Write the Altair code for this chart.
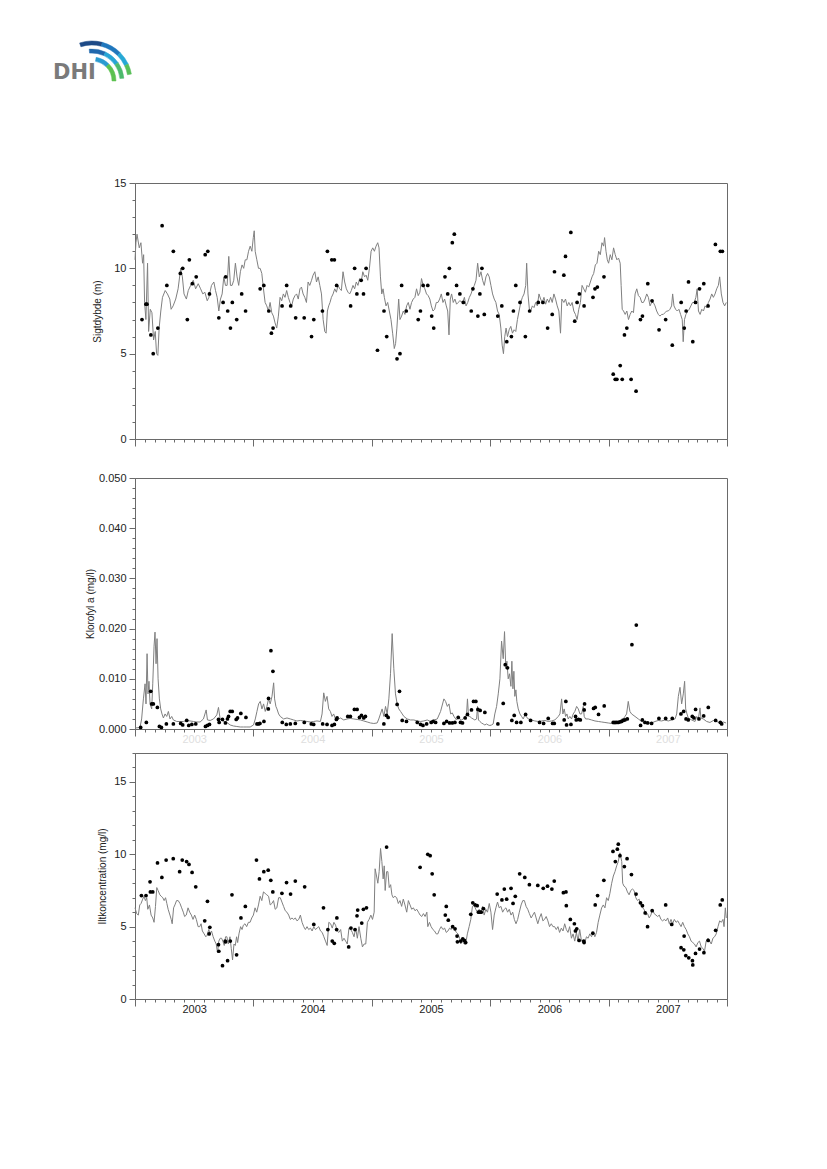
import altair as alt
import pandas as pd

# ---------------- Sigtdybde (m): model line and observations ----------------
sig_model = [
(2003.000,10.5),(2003.008,11.5),(2003.017,12.0),(2003.036,11.2),(2003.050,11.5),(2003.064,10.3),(2003.073,10.8),(2003.081,8.0),(2003.092,7.0),(2003.106,10.3),(2003.115,6.3),(2003.129,7.6),(2003.143,7.4),(2003.157,5.8),(2003.171,6.3),(2003.182,5.0),(2003.193,4.9),(2003.204,6.5),(2003.218,7.5),(2003.232,8.3),(2003.255,8.7),(2003.274,8.5),(2003.294,8.2),(2003.305,7.6),(2003.322,7.8),(2003.344,8.2),(2003.364,8.8),(2003.386,10.0),(2003.400,9.5),(2003.414,8.5),(2003.434,8.2),(2003.450,8.7),(2003.470,9.0),(2003.492,9.3),(2003.512,8.8),(2003.534,9.1),(2003.554,8.8),(2003.573,8.5),(2003.590,8.6),(2003.610,8.1),(2003.624,8.3),(2003.646,9.0),(2003.666,9.2),(2003.680,8.7),(2003.694,8.3),(2003.708,7.5),(2003.722,8.2),(2003.736,8.5),(2003.750,9.5),(2003.764,9.0),(2003.778,9.0),(2003.792,10.7),(2003.806,9.0),(2003.820,9.0),(2003.834,9.3),(2003.848,10.3),(2003.862,9.5),(2003.876,9.0),(2003.890,9.8),(2003.904,10.2),(2003.918,10.0),(2003.931,10.5),(2003.945,10.5),(2003.959,11.0),(2003.973,11.3),(2003.987,11.0),(2003.999,11.8),
(2004.007,12.2),(2004.015,11.0),(2004.029,10.5),(2004.043,10.0),(2004.057,10.0),(2004.071,9.7),(2004.085,8.8),(2004.099,8.0),(2004.113,7.8),(2004.127,7.5),(2004.141,8.0),(2004.155,7.4),(2004.169,7.2),(2004.183,6.8),(2004.197,6.5),(2004.211,7.2),(2004.225,8.3),(2004.239,8.1),(2004.253,8.5),(2004.267,8.3),(2004.281,8.7),(2004.295,8.3),(2004.309,8.0),(2004.323,7.8),(2004.337,8.2),(2004.351,8.4),(2004.365,8.5),(2004.379,8.2),(2004.393,8.8),(2004.406,8.9),(2004.420,8.5),(2004.434,8.3),(2004.448,8.0),(2004.462,9.2),(2004.476,9.0),(2004.491,9.3),(2004.504,9.6),(2004.519,9.8),(2004.533,9.2),(2004.547,9.5),(2004.561,9.0),(2004.575,8.5),(2004.589,7.0),(2004.603,6.3),(2004.614,6.2),(2004.625,7.5),(2004.636,7.8),(2004.647,8.0),(2004.659,8.3),(2004.673,8.5),(2004.687,8.8),(2004.701,8.6),(2004.715,9.0),(2004.729,8.8),(2004.743,8.7),(2004.757,9.8),(2004.771,9.2),(2004.785,8.8),(2004.799,8.6),(2004.813,8.5),(2004.827,8.7),(2004.841,9.0),(2004.855,8.8),(2004.869,9.2),(2004.883,9.0),(2004.897,9.4),(2004.911,9.2),(2004.924,9.8),(2004.939,9.5),(2004.952,9.6),(2004.966,9.3),(2004.980,10.0),(2004.994,11.0),
(2005.008,11.2),(2005.022,11.0),(2005.036,11.3),(2005.050,11.5),(2005.061,11.2),(2005.073,9.5),(2005.084,8.5),(2005.095,8.8),(2005.106,8.3),(2005.120,7.8),(2005.134,8.0),(2005.148,7.5),(2005.162,7.0),(2005.176,6.2),(2005.190,5.3),(2005.201,5.6),(2005.212,6.5),(2005.227,8.2),(2005.238,7.0),(2005.252,7.2),(2005.266,7.5),(2005.280,7.3),(2005.294,7.8),(2005.308,8.0),(2005.322,7.6),(2005.336,8.0),(2005.350,8.2),(2005.364,8.3),(2005.378,8.8),(2005.392,8.4),(2005.406,8.6),(2005.420,9.4),(2005.434,9.0),(2005.448,8.8),(2005.462,8.5),(2005.476,8.4),(2005.490,8.2),(2005.503,7.8),(2005.517,7.5),(2005.531,7.6),(2005.545,8.0),(2005.559,8.0),(2005.573,8.2),(2005.587,8.5),(2005.601,8.0),(2005.615,8.2),(2005.629,7.8),(2005.641,7.5),(2005.652,6.1),(2005.663,8.2),(2005.674,8.5),(2005.688,8.0),(2005.702,8.2),(2005.716,7.9),(2005.729,8.0),(2005.744,8.1),
(2005.768,8.0),(2005.782,8.3),(2005.796,7.8),(2005.810,8.0),(2005.824,8.3),(2005.838,8.5),(2005.852,8.8),(2005.866,9.0),(2005.880,9.3),(2005.894,10.3),(2005.908,9.5),(2005.922,9.8),(2005.936,9.3),(2005.950,9.0),(2005.964,9.5),(2005.978,9.7),(2005.992,9.5),
(2006.006,9.0),(2006.020,8.5),(2006.034,8.2),(2006.048,8.0),(2006.062,7.5),(2006.076,7.3),(2006.090,6.5),(2006.101,5.5),(2006.112,5.0),(2006.123,6.0),(2006.134,6.5),(2006.146,6.0),(2006.160,6.4),(2006.174,6.6),(2006.188,6.2),(2006.202,6.4),(2006.216,6.3),(2006.230,7.0),(2006.244,7.5),(2006.258,8.0),(2006.272,8.3),(2006.286,8.5),(2006.300,9.0),(2006.308,10.3),(2006.319,8.5),(2006.331,7.6),(2006.342,7.5),(2006.356,7.8),(2006.370,7.7),(2006.384,8.0),(2006.398,7.8),(2006.412,8.5),(2006.426,8.2),(2006.440,8.0),(2006.454,8.3),(2006.468,7.9),(2006.482,8.2),(2006.496,8.0),(2006.510,8.3),(2006.524,8.0),(2006.538,8.5),(2006.552,8.2),(2006.566,7.8),(2006.580,7.5),(2006.594,6.2),(2006.605,8.2),(2006.622,8.0),(2006.636,8.2),(2006.650,7.8),(2006.664,8.0),(2006.678,7.8),(2006.692,8.0),(2006.706,7.5),(2006.720,7.3),(2006.734,7.0),(2006.748,7.6),(2006.762,8.0),(2006.776,9.0),(2006.790,8.8),(2006.804,8.6),(2006.818,9.0),(2006.832,8.9),(2006.846,9.2),(2006.860,9.5),(2006.874,9.7),(2006.888,10.2),(2006.902,10.3),(2006.916,11.0),(2006.930,10.8),(2006.944,11.5),(2006.958,11.3),(2006.966,11.8),(2006.978,11.0),(2006.989,10.5),
(2007.000,10.3),(2007.014,10.8),(2007.028,10.5),(2007.042,11.2),(2007.056,10.8),(2007.070,10.5),(2007.084,10.6),(2007.098,10.3),(2007.106,9.0),(2007.115,7.6),(2007.126,7.5),(2007.140,7.3),(2007.154,7.5),(2007.168,7.0),(2007.182,7.3),(2007.196,7.5),(2007.210,7.4),(2007.224,8.5),(2007.238,8.8),(2007.252,8.4),(2007.266,8.3),(2007.280,8.0),(2007.294,8.0),(2007.308,8.2),(2007.322,8.5),(2007.336,8.3),(2007.350,7.8),(2007.364,8.0),(2007.378,8.0),(2007.392,7.8),(2007.406,7.5),(2007.420,7.3),(2007.434,7.2),(2007.448,7.3),(2007.462,7.3),(2007.476,7.4),(2007.490,7.5),(2007.504,7.5),(2007.518,7.6),(2007.532,7.8),(2007.541,8.5),(2007.552,7.8),(2007.566,7.6),(2007.580,7.5),(2007.594,7.6),(2007.608,7.3),(2007.622,7.0),(2007.630,5.7),(2007.641,7.0),(2007.653,7.3),(2007.667,7.5),(2007.681,7.6),(2007.695,7.8),(2007.709,8.0),(2007.723,8.0),(2007.737,8.3),(2007.748,8.8),(2007.759,7.5),(2007.773,7.3),(2007.787,7.6),(2007.801,7.5),(2007.815,7.8),(2007.829,7.7),(2007.843,8.0),(2007.857,8.2),(2007.871,8.5),(2007.885,8.3),(2007.899,8.5),(2007.913,8.8),(2007.927,9.0),(2007.938,9.5),(2007.952,8.5),(2007.966,8.0),(2007.980,7.8),(2007.994,8.0),
]
sig_obs = [
(2003.059,7.0),(2003.092,7.9),(2003.101,7.9),(2003.134,6.1),(2003.154,5.0),(2003.193,6.5),(2003.229,12.5),(2003.269,9.0),(2003.324,11.0),(2003.383,9.7),(2003.403,10.0),(2003.442,7.0),(2003.459,10.5),(2003.484,9.1),(2003.517,9.5),(2003.593,10.8),(2003.615,11.0),(2003.629,8.5),(2003.708,7.1),(2003.744,8.0),(2003.766,9.5),(2003.783,7.5),(2003.806,6.5),(2003.822,8.0),(2003.859,7.0),(2003.901,8.5),(2003.934,7.5),
(2004.057,8.8),(2004.088,9.0),(2004.130,7.5),(2004.152,6.2),(2004.166,6.5),(2004.242,7.8),(2004.281,9.0),(2004.315,7.8),(2004.357,7.1),(2004.429,7.1),(2004.491,6.0),(2004.510,7.0),(2004.583,7.5),(2004.625,11.0),(2004.662,10.5),(2004.684,10.5),(2004.703,9.0),(2004.821,7.8),(2004.855,10.0),(2004.874,8.5),(2004.910,9.3),(2004.930,8.5),(2004.952,10.0),
(2005.048,5.2),(2005.103,7.5),(2005.126,6.0),(2005.213,4.7),(2005.238,5.0),(2005.252,9.0),(2005.291,7.5),(2005.392,7.0),(2005.411,7.5),(2005.434,9.0),(2005.473,9.0),(2005.506,7.2),(2005.523,6.5),(2005.618,9.5),(2005.641,8.5),(2005.655,10.0),(2005.680,11.5),(2005.697,12.0),(2005.716,9.0),(2005.744,8.5),(2005.773,8.0),(2005.840,7.5),(2005.854,8.8),(2005.896,7.2),(2005.913,8.5),(2005.930,10.0),(2005.950,7.3),
(2006.064,7.2),(2006.098,7.8),(2006.140,5.7),(2006.179,6.0),(2006.196,7.5),(2006.216,9.0),(2006.252,8.0),(2006.297,6.0),(2006.333,7.5),(2006.406,8.0),(2006.445,8.0),(2006.485,6.5),(2006.524,7.3),(2006.543,9.8),(2006.622,9.6),(2006.636,10.7),(2006.681,12.1),(2006.714,6.9),(2006.734,8.0),(2006.753,8.5),(2006.793,7.8),(2006.868,8.3),(2006.885,8.8),(2006.905,8.9),(2006.961,9.5),
(2007.039,3.8),(2007.056,3.5),(2007.070,3.5),(2007.098,4.3),(2007.115,3.5),(2007.134,6.1),(2007.154,6.5),(2007.190,3.5),(2007.232,2.8),(2007.269,7.0),(2007.286,7.2),(2007.331,9.1),(2007.367,8.1),(2007.426,6.4),(2007.482,7.0),(2007.538,5.5),(2007.613,8.0),(2007.639,6.5),(2007.655,7.5),(2007.675,9.2),(2007.711,5.7),(2007.734,8.0),(2007.768,8.8),(2007.804,9.1),(2007.840,7.8),(2007.902,11.4),(2007.944,11.0),(2007.961,11.0),
]

# ---------------- Klorofyl a (mg/l) ----------------
chl_model = [
(2003.000,0.0002),(2003.042,0.0003),(2003.056,0.002),(2003.071,0.006),(2003.085,0.009),(2003.093,0.005),(2003.102,0.015),(2003.110,0.007),(2003.118,0.0095),(2003.127,0.005),(2003.141,0.004),(2003.150,0.009),(2003.161,0.0165),(2003.169,0.0193),(2003.178,0.013),(2003.186,0.018),(2003.195,0.010),(2003.206,0.006),(2003.217,0.004),(2003.228,0.003),(2003.240,0.0022),(2003.254,0.003),(2003.268,0.0025),(2003.282,0.0035),(2003.296,0.002),(2003.310,0.0025),(2003.324,0.0018),(2003.353,0.0015),(2003.381,0.0015),(2003.409,0.0015),(2003.437,0.0017),(2003.465,0.0016),(2003.494,0.0015),(2003.522,0.0014),(2003.550,0.0014),(2003.578,0.002),(2003.601,0.0038),(2003.612,0.0018),(2003.635,0.0017),(2003.663,0.002),(2003.691,0.0028),(2003.705,0.0043),(2003.719,0.002),(2003.748,0.0015),(2003.776,0.0013),(2003.804,0.0008),(2003.832,0.0006),(2003.860,0.0005),(2003.889,0.0004),(2003.917,0.0004),(2003.945,0.0004),(2003.973,0.0004),
(2004.001,0.0008),(2004.016,0.002),(2004.030,0.0035),(2004.044,0.005),(2004.058,0.0055),(2004.072,0.004),(2004.086,0.005),(2004.100,0.0035),(2004.114,0.0045),(2004.128,0.006),(2004.142,0.005),(2004.157,0.0065),(2004.171,0.0092),(2004.179,0.006),(2004.190,0.0045),(2004.199,0.004),(2004.213,0.003),(2004.227,0.0025),(2004.255,0.002),(2004.284,0.0022),(2004.312,0.002),(2004.340,0.0018),(2004.368,0.0016),(2004.396,0.0017),(2004.425,0.0016),(2004.453,0.0015),(2004.481,0.0014),(2004.509,0.0015),(2004.537,0.0016),(2004.566,0.0015),(2004.580,0.003),(2004.594,0.0072),(2004.608,0.0055),(2004.622,0.0065),(2004.636,0.004),(2004.650,0.0035),(2004.664,0.0025),(2004.678,0.003),(2004.693,0.002),(2004.707,0.0018),(2004.735,0.0022),(2004.763,0.0018),(2004.791,0.002),(2004.819,0.0021),(2004.848,0.002),(2004.876,0.0019),(2004.904,0.0018),(2004.932,0.0016),(2004.961,0.0014),(2004.989,0.0012),
(2005.017,0.0011),(2005.045,0.0012),(2005.059,0.002),(2005.073,0.003),(2005.087,0.004),(2005.102,0.0025),(2005.116,0.0045),(2005.130,0.003),(2005.144,0.006),(2005.158,0.011),(2005.172,0.019),(2005.186,0.012),(2005.200,0.007),(2005.214,0.005),(2005.228,0.004),(2005.243,0.0035),(2005.257,0.003),(2005.271,0.0025),(2005.299,0.002),(2005.327,0.0018),(2005.355,0.0018),(2005.384,0.0016),(2005.412,0.0015),(2005.440,0.0016),(2005.468,0.0018),(2005.496,0.0015),(2005.525,0.0018),(2005.553,0.002),(2005.581,0.0035),(2005.609,0.006),(2005.623,0.0055),(2005.638,0.0045),(2005.652,0.005),(2005.666,0.003),(2005.680,0.0032),(2005.694,0.0025),
(2005.715,0.0018),(2005.730,0.0022),(2005.744,0.002),(2005.758,0.0018),(2005.772,0.002),(2005.786,0.0025),(2005.800,0.0028),(2005.808,0.006),(2005.817,0.0025),(2005.828,0.0025),(2005.842,0.0022),(2005.856,0.002),(2005.870,0.0018),(2005.885,0.002),(2005.893,0.0045),(2005.901,0.0018),(2005.913,0.0015),(2005.927,0.0012),(2005.941,0.001),(2005.955,0.0008),(2005.969,0.001),(2005.983,0.0008),(2005.997,0.0007),
(2006.011,0.0008),(2006.025,0.001),(2006.039,0.003),(2006.054,0.0045),(2006.068,0.007),(2006.082,0.010),(2006.096,0.0175),(2006.110,0.014),(2006.121,0.0194),(2006.132,0.012),(2006.141,0.0135),(2006.152,0.010),(2006.163,0.011),(2006.175,0.0085),(2006.183,0.0135),(2006.192,0.008),(2006.200,0.0115),(2006.208,0.0065),(2006.217,0.0078),(2006.225,0.0055),(2006.237,0.004),(2006.251,0.003),(2006.265,0.0025),(2006.279,0.002),(2006.293,0.0028),(2006.321,0.002),(2006.349,0.0018),(2006.377,0.0016),(2006.406,0.0015),(2006.434,0.0016),(2006.462,0.0017),(2006.490,0.0015),(2006.518,0.0016),(2006.546,0.0018),(2006.575,0.0025),(2006.589,0.003),(2006.603,0.006),(2006.614,0.003),(2006.625,0.004),(2006.637,0.0025),(2006.648,0.003),(2006.659,0.002),(2006.673,0.0025),(2006.687,0.002),(2006.701,0.003),(2006.715,0.0035),(2006.730,0.0045),(2006.744,0.004),(2006.758,0.003),(2006.772,0.003),(2006.786,0.0045),(2006.794,0.0025),(2006.806,0.002),(2006.828,0.002),(2006.856,0.0018),(2006.885,0.0016),(2006.913,0.0015),(2006.941,0.0014),(2006.969,0.0013),(2006.997,0.0012),
(2007.025,0.0011),(2007.054,0.001),(2007.082,0.0012),(2007.096,0.0015),(2007.110,0.002),(2007.124,0.002),(2007.138,0.0025),(2007.152,0.003),(2007.166,0.0055),(2007.180,0.0035),(2007.194,0.003),(2007.223,0.0025),(2007.251,0.002),(2007.279,0.0015),(2007.307,0.0013),(2007.335,0.0012),(2007.363,0.0012),(2007.392,0.0015),(2007.420,0.0017),(2007.448,0.0016),(2007.476,0.0018),(2007.504,0.0016),(2007.532,0.0018),(2007.561,0.002),(2007.575,0.003),(2007.589,0.0065),(2007.603,0.0083),(2007.617,0.005),(2007.631,0.007),(2007.642,0.0095),(2007.651,0.004),(2007.662,0.003),(2007.673,0.0022),(2007.701,0.0018),(2007.730,0.0015),(2007.744,0.0025),(2007.758,0.002),(2007.772,0.0042),(2007.780,0.0022),(2007.800,0.002),(2007.828,0.0015),(2007.856,0.0013),(2007.885,0.0017),(2007.913,0.0015),(2007.941,0.0012),(2007.969,0.0014),(2007.992,0.0012),
]
chl_obs = [
(2003.048,0.0003),(2003.096,0.0013),(2003.133,0.0075),(2003.141,0.005),(2003.155,0.005),(2003.189,0.0043),(2003.206,0.0005),(2003.223,0.0003),(2003.265,0.001),(2003.324,0.001),(2003.386,0.0011),(2003.403,0.0008),(2003.437,0.0017),(2003.454,0.0007),(2003.480,0.0009),(2003.513,0.001),(2003.595,0.0005),(2003.612,0.0007),(2003.629,0.0009),(2003.705,0.0019),(2003.711,0.0013),(2003.739,0.0019),(2003.764,0.0012),(2003.781,0.002),(2003.790,0.0025),(2003.804,0.0035),(2003.821,0.0035),(2003.855,0.0019),(2003.866,0.0022),(2003.894,0.0031),(2003.937,0.0023),
(2004.030,0.001),(2004.044,0.001),(2004.055,0.0011),(2004.089,0.0015),(2004.126,0.004),(2004.128,0.0061),(2004.148,0.0156),(2004.165,0.0115),(2004.244,0.0013),(2004.278,0.0009),(2004.312,0.001),(2004.354,0.0011),(2004.430,0.0013),(2004.489,0.001),(2004.509,0.0009),(2004.585,0.001),(2004.622,0.0009),(2004.664,0.0007),(2004.684,0.0009),(2004.701,0.0019),(2004.707,0.0022),(2004.797,0.0025),(2004.819,0.0025),(2004.853,0.0039),(2004.876,0.0039),(2004.896,0.0023),(2004.913,0.0027),(2004.932,0.0022),(2004.946,0.0025),
(2005.102,0.001),(2005.124,0.0027),(2005.138,0.0023),(2005.214,0.0049),(2005.234,0.0075),(2005.257,0.0017),(2005.293,0.0015),(2005.384,0.0013),(2005.412,0.0009),(2005.432,0.0007),(2005.463,0.001),(2005.502,0.0013),(2005.519,0.0015),(2005.539,0.0013),(2005.609,0.0011),(2005.632,0.0015),(2005.657,0.0012),(2005.680,0.0012),(2005.702,0.0013),(2005.730,0.0023),(2005.749,0.0013),(2005.766,0.0012),(2005.789,0.0022),(2005.808,0.0029),(2005.842,0.0038),(2005.859,0.0055),(2005.879,0.0055),(2005.896,0.0039),(2005.915,0.0037),(2005.955,0.0033),
(2006.065,0.001),(2006.110,0.0051),(2006.127,0.0128),(2006.146,0.0122),(2006.183,0.0017),(2006.203,0.0027),(2006.223,0.0013),(2006.259,0.0013),(2006.299,0.0029),(2006.341,0.0017),(2006.417,0.0013),(2006.451,0.0011),(2006.490,0.0021),(2006.527,0.0011),(2006.541,0.0011),(2006.625,0.0018),(2006.639,0.0055),(2006.645,0.0008),(2006.682,0.0009),(2006.721,0.0025),(2006.727,0.0018),(2006.746,0.0019),(2006.761,0.0018),(2006.794,0.0038),(2006.797,0.005),(2006.873,0.0041),(2006.887,0.0043),(2006.915,0.0029),(2006.963,0.0046),
(2007.039,0.0013),(2007.054,0.0013),(2007.068,0.0013),(2007.082,0.0013),(2007.096,0.0014),(2007.110,0.0015),(2007.124,0.0017),(2007.138,0.0018),(2007.158,0.002),(2007.197,0.0168),(2007.234,0.0207),(2007.270,0.0007),(2007.285,0.0018),(2007.307,0.0013),(2007.330,0.0012),(2007.363,0.0011),(2007.425,0.0021),(2007.482,0.0021),(2007.538,0.0021),(2007.611,0.003),(2007.634,0.0035),(2007.654,0.002),(2007.673,0.0018),(2007.707,0.0025),(2007.721,0.0022),(2007.735,0.0039),(2007.763,0.002),(2007.803,0.0026),(2007.842,0.0043),(2007.904,0.0017),(2007.944,0.0013),(2007.955,0.001),
]

# ---------------- Iltkoncentration (mg/l) ----------------
oxy_model = [
(2003.000,6.3),(2003.014,5.9),(2003.028,5.8),(2003.040,6.5),(2003.051,6.6),(2003.065,6.9),(2003.076,7.1),(2003.088,6.8),(2003.099,7.0),(2003.108,6.2),(2003.122,6.5),(2003.136,5.8),(2003.150,5.6),(2003.161,5.3),(2003.173,6.4),(2003.184,7.7),(2003.195,7.5),(2003.210,7.2),(2003.221,7.1),(2003.235,7.0),(2003.246,6.8),(2003.258,7.0),(2003.269,6.6),(2003.280,6.2),(2003.295,5.8),(2003.306,5.5),(2003.314,5.2),(2003.326,6.3),(2003.337,6.5),(2003.351,6.8),(2003.365,6.8),(2003.380,6.6),(2003.394,6.3),(2003.408,6.0),(2003.419,5.7),(2003.433,5.8),(2003.448,6.3),(2003.462,6.0),(2003.476,5.8),(2003.490,5.5),(2003.504,5.8),(2003.518,5.5),(2003.533,5.0),(2003.547,5.0),(2003.558,5.2),(2003.569,4.7),(2003.584,4.5),(2003.598,4.3),(2003.609,4.4),(2003.623,4.8),(2003.635,4.5),(2003.646,4.7),(2003.660,4.3),(2003.674,4.0),(2003.686,3.8),(2003.697,3.2),(2003.708,4.0),(2003.720,4.2),(2003.731,4.2),(2003.742,4.0),(2003.754,3.7),(2003.765,4.3),(2003.776,4.3),(2003.788,3.8),(2003.802,4.3),(2003.813,3.5),(2003.824,2.7),(2003.836,3.8),(2003.847,3.7),(2003.858,4.3),(2003.867,3.9),(2003.878,4.5),(2003.892,5.0),(2003.904,4.8),(2003.915,5.1),(2003.929,5.2),(2003.943,5.0),(2003.958,5.3),(2003.972,5.3),(2003.986,5.6),
(2004.000,5.8),(2004.014,6.3),(2004.028,6.0),(2004.043,6.5),(2004.057,7.1),(2004.071,6.8),(2004.085,7.4),(2004.099,7.3),(2004.113,7.2),(2004.128,7.1),(2004.142,6.5),(2004.156,6.6),(2004.170,6.8),(2004.184,6.2),(2004.198,6.3),(2004.213,7.0),(2004.227,7.0),(2004.241,6.7),(2004.255,6.4),(2004.269,6.1),(2004.283,6.0),(2004.298,5.8),(2004.312,5.5),(2004.326,5.6),(2004.340,5.5),(2004.354,5.6),(2004.368,5.4),(2004.383,5.5),(2004.397,5.8),(2004.411,5.3),(2004.425,5.0),(2004.439,4.8),(2004.453,5.0),(2004.467,4.8),(2004.482,4.9),(2004.496,4.7),(2004.510,5.0),(2004.524,4.8),(2004.538,4.9),(2004.552,5.0),(2004.567,4.7),(2004.581,4.6),(2004.595,4.3),(2004.609,4.0),(2004.623,3.7),(2004.637,5.3),(2004.652,5.2),(2004.666,4.9),(2004.680,5.3),(2004.694,5.1),(2004.708,4.7),(2004.722,4.6),(2004.737,4.8),(2004.751,4.0),(2004.765,4.2),(2004.779,4.0),(2004.793,3.8),(2004.807,4.9),(2004.822,4.8),(2004.836,4.6),(2004.850,4.3),(2004.864,4.9),(2004.878,4.2),(2004.892,5.0),(2004.907,4.2),(2004.921,3.6),(2004.935,3.8),(2004.949,3.8),(2004.963,5.3),(2004.977,5.5),(2004.992,5.8),
(2005.006,5.5),(2005.020,6.0),(2005.028,9.0),(2005.040,8.5),(2005.051,8.0),(2005.062,8.8),(2005.074,10.4),(2005.085,9.5),(2005.096,8.3),(2005.105,9.2),(2005.113,7.5),(2005.125,8.8),(2005.136,8.8),(2005.147,7.7),(2005.159,7.9),(2005.170,7.2),(2005.181,7.0),(2005.195,7.1),(2005.210,7.0),(2005.224,6.6),(2005.238,6.8),(2005.252,6.4),(2005.266,6.9),(2005.280,6.5),(2005.295,6.0),(2005.309,6.8),(2005.323,6.5),(2005.337,6.2),(2005.351,6.3),(2005.365,6.1),(2005.380,6.2),(2005.394,6.0),(2005.408,5.8),(2005.422,5.7),(2005.436,5.9),(2005.450,5.7),(2005.465,6.0),(2005.473,5.0),(2005.487,5.3),(2005.501,5.0),(2005.516,4.8),(2005.530,4.7),(2005.544,4.5),(2005.558,4.5),(2005.572,4.8),(2005.586,5.0),(2005.601,4.8),(2005.615,4.9),(2005.629,4.6),(2005.643,4.7),(2005.657,4.9),(2005.671,4.8),(2005.686,5.1),(2005.700,4.8),(2005.714,4.6),(2005.728,4.5),(2005.742,4.2),
(2005.751,3.8),(2005.765,4.0),(2005.779,3.8),(2005.793,3.8),(2005.807,4.5),(2005.822,5.0),(2005.836,5.5),(2005.850,6.4),(2005.864,6.5),(2005.878,6.2),(2005.892,6.0),(2005.907,6.2),(2005.921,6.0),(2005.935,6.4),(2005.949,5.8),(2005.963,6.2),(2005.977,6.0),(2005.992,6.6),
(2006.006,6.0),(2006.020,4.8),(2006.034,5.8),(2006.048,6.3),(2006.062,6.7),(2006.076,6.3),(2006.091,6.4),(2006.105,6.0),(2006.119,6.2),(2006.133,6.3),(2006.147,6.0),(2006.161,6.2),(2006.176,5.8),(2006.190,6.0),(2006.204,5.5),(2006.218,5.2),(2006.232,5.5),(2006.246,6.0),(2006.261,6.5),(2006.275,6.8),(2006.289,6.8),(2006.303,6.4),(2006.317,6.2),(2006.331,5.9),(2006.346,5.6),(2006.360,5.8),(2006.374,6.0),(2006.388,5.6),(2006.402,5.2),(2006.416,5.6),(2006.431,5.9),(2006.445,5.4),(2006.459,5.5),(2006.473,5.7),(2006.487,5.4),(2006.501,5.0),(2006.516,5.2),(2006.530,5.0),(2006.544,5.0),(2006.558,4.8),(2006.572,5.0),(2006.586,4.6),(2006.601,4.9),(2006.615,4.7),(2006.629,5.2),(2006.643,4.8),(2006.657,4.6),(2006.671,5.0),(2006.686,4.2),(2006.700,4.5),(2006.714,4.0),(2006.728,4.6),(2006.742,4.0),(2006.756,4.8),(2006.771,4.0),(2006.785,4.0),(2006.799,3.9),(2006.813,4.3),(2006.827,4.2),(2006.841,4.5),(2006.856,4.3),(2006.870,4.6),(2006.884,4.3),(2006.898,4.6),(2006.912,5.3),(2006.926,5.8),(2006.941,6.3),(2006.955,6.5),(2006.969,6.3),(2006.983,7.0),(2006.997,6.8),
(2007.011,7.3),(2007.026,8.0),(2007.040,8.5),(2007.054,8.8),(2007.068,9.2),(2007.082,9.5),(2007.096,10.1),(2007.111,9.5),(2007.119,8.0),(2007.130,7.8),(2007.145,7.7),(2007.159,7.4),(2007.173,7.2),(2007.187,7.5),(2007.201,7.6),(2007.215,7.5),(2007.230,7.0),(2007.244,6.8),(2007.258,6.9),(2007.272,6.5),(2007.286,6.3),(2007.300,6.2),(2007.315,5.8),(2007.329,5.9),(2007.343,5.6),(2007.357,5.8),(2007.371,6.2),(2007.385,5.9),(2007.400,5.8),(2007.414,5.7),(2007.428,5.8),(2007.442,5.5),(2007.456,5.4),(2007.470,5.5),(2007.485,5.4),(2007.499,5.6),(2007.513,5.2),(2007.527,5.5),(2007.541,5.2),(2007.555,5.5),(2007.570,5.3),(2007.584,5.4),(2007.598,5.2),(2007.612,5.0),(2007.626,5.3),(2007.640,5.0),(2007.655,4.8),(2007.669,4.5),(2007.683,4.3),(2007.697,4.0),(2007.711,3.9),(2007.725,3.8),(2007.739,3.6),(2007.754,3.9),(2007.768,4.0),(2007.782,3.6),(2007.796,3.5),(2007.810,3.3),(2007.824,4.0),(2007.839,4.2),(2007.853,4.0),(2007.867,3.8),(2007.881,4.2),(2007.895,4.3),(2007.909,4.5),(2007.924,5.0),(2007.938,5.4),(2007.952,5.3),(2007.966,5.5),(2007.975,5.0),(2007.986,6.3),(2007.994,5.6),
]
oxy_obs = [
(2003.054,7.15),(2003.093,7.15),(2003.127,8.1),(2003.130,7.4),(2003.150,7.4),(2003.190,9.4),(2003.227,8.4),(2003.263,9.6),(2003.323,9.7),(2003.377,8.8),(2003.399,9.6),(2003.436,9.5),(2003.456,9.3),(2003.482,8.75),(2003.513,7.75),(2003.589,5.4),(2003.612,6.75),(2003.626,4.5),(2003.632,4.95),(2003.705,3.75),(2003.708,3.3),(2003.739,2.3),(2003.762,4.0),(2003.765,3.95),(2003.782,2.65),(2003.805,4.0),(2003.819,7.2),(2003.858,3.05),(2003.895,5.6),(2003.932,6.4),
(2004.026,9.6),(2004.051,8.3),(2004.088,8.8),(2004.125,8.9),(2004.147,8.2),(2004.164,7.4),(2004.241,7.3),(2004.280,8.05),(2004.314,7.25),(2004.354,8.15),(2004.433,7.75),(2004.510,5.15),(2004.592,6.3),(2004.629,4.8),(2004.666,4.0),(2004.683,3.85),(2004.703,4.8),(2004.705,5.6),(2004.805,3.6),(2004.824,4.9),(2004.858,4.8),(2004.875,5.75),(2004.881,6.15),(2004.915,5.25),(2004.929,6.2),(2004.955,6.3),
(2005.125,10.5),(2005.408,9.1),(2005.473,10.0),(2005.493,9.9),(2005.510,8.65),(2005.527,7.2),(2005.621,5.8),(2005.629,6.4),(2005.646,5.45),(2005.683,5.0),(2005.703,4.85),(2005.720,4.35),(2005.723,3.95),(2005.751,4.0),(2005.768,4.15),(2005.782,4.05),(2005.793,3.9),(2005.836,5.85),(2005.853,6.65),(2005.873,6.5),(2005.890,6.45),(2005.901,6.0),(2005.912,6.0),(2005.924,6.0),(2005.943,6.25),
(2006.059,7.25),(2006.099,6.85),(2006.119,7.6),(2006.139,6.9),(2006.176,7.65),(2006.193,6.6),(2006.212,7.1),(2006.249,8.65),(2006.292,8.4),(2006.331,7.9),(2006.402,7.85),(2006.448,7.65),(2006.484,7.8),(2006.521,7.6),(2006.541,8.15),(2006.618,7.35),(2006.640,7.4),(2006.643,6.45),(2006.677,5.5),(2006.711,5.2),(2006.720,4.7),(2006.731,4.85),(2006.751,4.05),(2006.790,4.0),(2006.793,3.9),(2006.867,4.55),(2006.887,6.5),(2006.907,7.15),(2006.960,8.2),
(2007.037,10.2),(2007.057,9.5),(2007.074,10.35),(2007.082,10.7),(2007.096,9.9),(2007.133,9.15),(2007.156,9.7),(2007.193,8.6),(2007.232,7.25),(2007.269,6.65),(2007.286,6.45),(2007.309,5.95),(2007.329,5.0),(2007.368,6.1),(2007.482,6.5),(2007.533,5.15),(2007.612,3.55),(2007.635,3.4),(2007.638,4.35),(2007.652,3.0),(2007.677,2.85),(2007.708,2.65),(2007.711,2.35),(2007.734,3.15),(2007.768,3.45),(2007.805,3.2),(2007.841,4.05),(2007.904,4.75),(2007.943,6.5),(2007.960,6.85),
]

# ---------------- axis ticks ----------------
month_ticks = [round(2003 + k / 12, 4) for k in range(61)]
sig_ticks = list(range(0, 16))
chl_ticks = [round(i * 0.002, 3) for i in range(26)]
oxy_ticks = list(range(0, 18))

# ---------------- logo (DHI wordmark and wave bands) ----------------
logo_word = "DHI"
logo_band_r_in = [36, 36, 36, 36, 28, 28, 28, 20, 20]
logo_band_r_out = [40, 40, 40, 40, 32, 32, 32, 24, 24]
logo_band_start = [342, 375, 405, 425, 355, 385, 415, 370, 405]
logo_band_end = [375, 405, 425, 440, 385, 415, 445, 405, 450]
logo_band_color = ["#1d4a87", "#1f77bd", "#27a8d5", "#58bf58",
                   "#2068ad", "#27a5d5", "#4cba6c", "#2a9bd0", "#5cc150"]

W = 592
H1, H2, H3 = 256, 251, 246
LINE_COLOR = "#808080"
FRAME = "#6a6a6a"
FONT = "Liberation Sans"
YEAR_TEST = "abs(datum.value - round(datum.value)) < 0.001"
X_TICK = {"condition": {"test": YEAR_TEST, "value": 7}, "value": 3}


def xaxis(show_labels, label_color="#222222"):
    kw = dict(values=month_ticks, title=None, tickSize=X_TICK, grid=False,
              labelOverlap=False, labelFlush=False)
    if show_labels:
        kw.update(labelExpr="abs(datum.value - floor(datum.value) - 0.5) < 0.01 ? '' + floor(datum.value) : ''",
                  labelColor=label_color, labelPadding=1, labelFontSize=11)
    else:
        kw.update(labels=False)
    return alt.Axis(**kw)


def yaxis(values, major_test, label_expr, title, title_x, height):
    return alt.Axis(values=values, title=title, grid=False,
                    tickSize={"condition": {"test": major_test, "value": 6}, "value": 3},
                    labelExpr=label_expr, labelOverlap=False, labelPadding=3,
                    labelFontSize=11, titleX=title_x, titleY=height / 2,
                    titleAngle=270, titleAlign="center", titleBaseline="middle",
                    titleFontSize=10, titleFontWeight="normal")


def panel(model, obs, xf, yf, ydomain, ax_x, ax_y):
    dm = pd.DataFrame(model, columns=[xf, yf])
    do = pd.DataFrame(obs, columns=[xf, yf])
    xs = alt.Scale(domain=[2003, 2008], nice=False, zero=False)
    ys = alt.Scale(domain=ydomain, nice=False, zero=False)
    line = alt.Chart(dm).mark_line(color=LINE_COLOR, strokeWidth=1).encode(
        x=alt.X(f"{xf}:Q", scale=xs, axis=ax_x),
        y=alt.Y(f"{yf}:Q", scale=ys, axis=ax_y),
    )
    pts = alt.Chart(do).mark_circle(color="black", size=14, opacity=1).encode(
        x=alt.X(f"{xf}:Q", scale=xs, axis=ax_x),
        y=alt.Y(f"{yf}:Q", scale=ys, axis=ax_y),
    )
    return line, pts


l1, p1 = panel(sig_model, sig_obs, "t1", "sig", [0, 15], xaxis(False),
               yaxis(sig_ticks, "datum.value % 5 === 0",
                     "datum.value % 5 === 0 ? '' + datum.value : ''",
                     "Sigtdybde (m)", -38, H1))
l2, p2 = panel(chl_model, chl_obs, "t2", "chl", [0, 0.05], xaxis(True, "#dedede"),
               yaxis(chl_ticks, "round(datum.value * 1000) % 10 === 0",
                     "round(datum.value * 1000) % 10 === 0 ? format(datum.value, '.3f') : ''",
                     "Klorofyl a (mg/l)", -45, H2))
l3, p3 = panel(oxy_model, oxy_obs, "t3", "oxy", [0, 17], xaxis(True),
               yaxis(oxy_ticks, "datum.value % 5 === 0",
                     "datum.value % 5 === 0 && datum.value <= 15 ? '' + datum.value : ''",
                     "Iltkoncentration (mg/l)", -33, H3))

# logo, drawn above the first panel (outside its plot area)
one_row = pd.DataFrame({"t": [logo_word]})
logo_txt = alt.Chart(one_row).mark_text(
    font="DejaVu Sans", fontSize=21, fontWeight="bold", color="#7a7a7a",
    align="left", baseline="alphabetic").encode(
    text="t:N", x=alt.value(-82), y=alt.value(-104))

DEG = 3.14159265 / 180
logo_layers = []
for r1, r2, a1, a2, col in zip(logo_band_r_in, logo_band_r_out, logo_band_start,
                               logo_band_end, logo_band_color):
    logo_layers.append(
        alt.Chart(one_row).mark_arc(
            radius=r2, radius2=r1, theta=a1 * DEG, theta2=a2 * DEG,
            color=col, stroke=col, strokeWidth=0.5
        ).encode(x=alt.value(-43), y=alt.value(-102))
    )

panel_view = alt.ViewBackground(stroke=FRAME, strokeWidth=1)
c1 = alt.layer(l1, p1, *logo_layers, logo_txt).properties(width=W, height=H1, view=panel_view)
c2 = alt.layer(l2, p2).properties(width=W, height=H2, view=panel_view)
c3 = alt.layer(l3, p3).properties(width=W, height=H3, view=panel_view)


def spacer(h):
    return alt.Chart(pd.DataFrame({"s": [0]})).mark_point(opacity=0).encode(
        x=alt.value(0), y=alt.value(0)
    ).properties(width=W, height=h, view=alt.ViewBackground(strokeOpacity=0))


chart = alt.vconcat(c1, spacer(23), c2, spacer(8), c3, spacing=8, bounds="flush").properties(
    padding={"left": 44, "top": 31, "right": 10, "bottom": 10}
).configure_axis(
    domainColor=FRAME, tickColor=FRAME, labelColor="#222222",
    labelFont=FONT, titleFont=FONT, titleColor="#222222"
)

chart.save("out.html", embed_options={"renderer": "svg", "actions": False})
